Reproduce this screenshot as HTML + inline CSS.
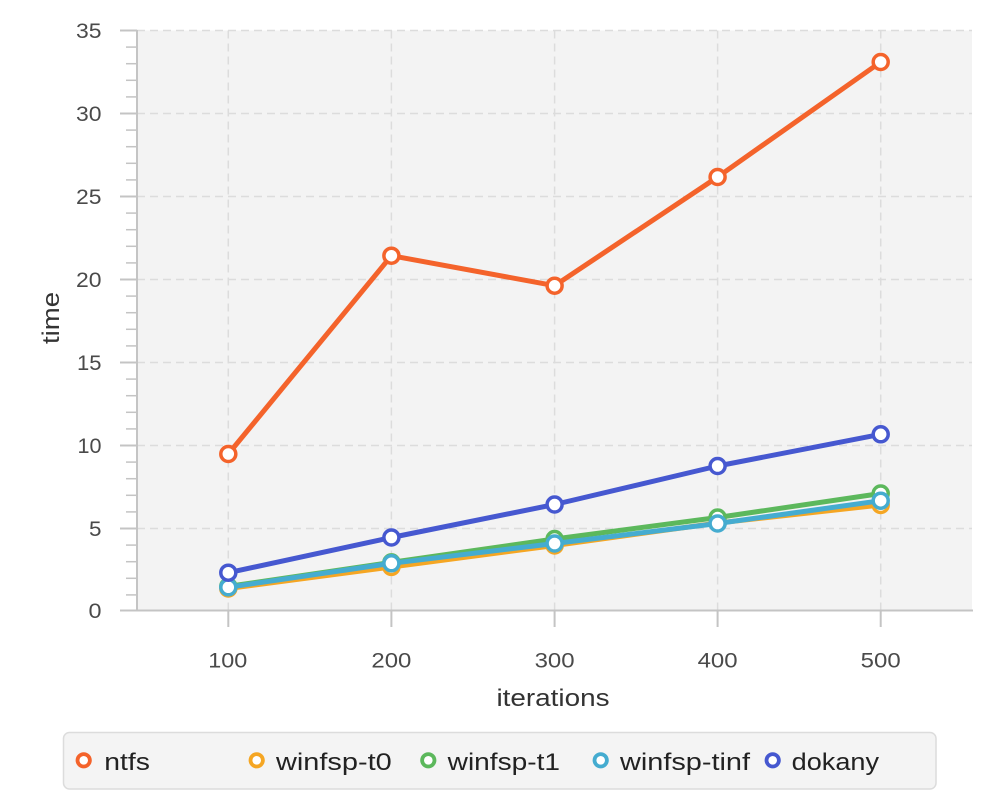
<!DOCTYPE html>
<html>
<head>
<meta charset="utf-8">
<style>
  html, body { margin:0; padding:0; background:#ffffff; }
  svg { display:block; }
  text { font-family: "Liberation Sans", "DejaVu Sans", sans-serif; }
</style>
</head>
<body>
<svg width="1000" height="800" viewBox="0 0 1000 800" xmlns="http://www.w3.org/2000/svg">
  <!-- plot background -->
  <rect x="137" y="30.5" width="835" height="580" fill="#f3f3f3"/>

  <!-- grid -->
  <g stroke="#dcdcdc" stroke-width="1.5" stroke-dasharray="8,5" fill="none">
    <line x1="137" y1="30.5" x2="972" y2="30.5"/>
    <line x1="137" y1="113.5" x2="972" y2="113.5"/>
    <line x1="137" y1="196.5" x2="972" y2="196.5"/>
    <line x1="137" y1="279.5" x2="972" y2="279.5"/>
    <line x1="137" y1="362.5" x2="972" y2="362.5"/>
    <line x1="137" y1="445.5" x2="972" y2="445.5"/>
    <line x1="137" y1="528.5" x2="972" y2="528.5"/>
    <line x1="228.3" y1="30.5" x2="228.3" y2="610"/>
    <line x1="391.4" y1="30.5" x2="391.4" y2="610"/>
    <line x1="554.6" y1="30.5" x2="554.6" y2="610"/>
    <line x1="717.6" y1="30.5" x2="717.6" y2="610"/>
    <line x1="880.7" y1="30.5" x2="880.7" y2="610"/>
  </g>

  <!-- axes -->
  <g stroke="#c4c4c4" stroke-width="2" fill="none">
    <line x1="137" y1="30" x2="137" y2="611.5"/>
    <line x1="136" y1="610.5" x2="973" y2="610.5"/>
    <line x1="120" y1="30.5" x2="137" y2="30.5"/>
    <line x1="120" y1="113.5" x2="137" y2="113.5"/>
    <line x1="120" y1="196.5" x2="137" y2="196.5"/>
    <line x1="120" y1="279.5" x2="137" y2="279.5"/>
    <line x1="120" y1="362.5" x2="137" y2="362.5"/>
    <line x1="120" y1="445.5" x2="137" y2="445.5"/>
    <line x1="120" y1="528.5" x2="137" y2="528.5"/>
    <line x1="120" y1="610.5" x2="137" y2="610.5"/>
    <line x1="228.3" y1="610" x2="228.3" y2="627"/>
    <line x1="391.4" y1="610" x2="391.4" y2="627"/>
    <line x1="554.6" y1="610" x2="554.6" y2="627"/>
    <line x1="717.6" y1="610" x2="717.6" y2="627"/>
    <line x1="880.7" y1="610" x2="880.7" y2="627"/>
  </g>
  <g stroke="#c4c4c4" stroke-width="1.5" fill="none">
    <line x1="126" y1="47.1" x2="137" y2="47.1"/>
    <line x1="126" y1="63.7" x2="137" y2="63.7"/>
    <line x1="126" y1="80.3" x2="137" y2="80.3"/>
    <line x1="126" y1="96.9" x2="137" y2="96.9"/>
    <line x1="126" y1="130.1" x2="137" y2="130.1"/>
    <line x1="126" y1="146.7" x2="137" y2="146.7"/>
    <line x1="126" y1="163.3" x2="137" y2="163.3"/>
    <line x1="126" y1="179.9" x2="137" y2="179.9"/>
    <line x1="126" y1="213.1" x2="137" y2="213.1"/>
    <line x1="126" y1="229.7" x2="137" y2="229.7"/>
    <line x1="126" y1="246.3" x2="137" y2="246.3"/>
    <line x1="126" y1="262.9" x2="137" y2="262.9"/>
    <line x1="126" y1="296.1" x2="137" y2="296.1"/>
    <line x1="126" y1="312.7" x2="137" y2="312.7"/>
    <line x1="126" y1="329.3" x2="137" y2="329.3"/>
    <line x1="126" y1="345.9" x2="137" y2="345.9"/>
    <line x1="126" y1="379.1" x2="137" y2="379.1"/>
    <line x1="126" y1="395.7" x2="137" y2="395.7"/>
    <line x1="126" y1="412.3" x2="137" y2="412.3"/>
    <line x1="126" y1="428.9" x2="137" y2="428.9"/>
    <line x1="126" y1="462.1" x2="137" y2="462.1"/>
    <line x1="126" y1="478.7" x2="137" y2="478.7"/>
    <line x1="126" y1="495.3" x2="137" y2="495.3"/>
    <line x1="126" y1="511.9" x2="137" y2="511.9"/>
    <line x1="126" y1="545.1" x2="137" y2="545.1"/>
    <line x1="126" y1="561.7" x2="137" y2="561.7"/>
    <line x1="126" y1="578.3" x2="137" y2="578.3"/>
    <line x1="126" y1="594.9" x2="137" y2="594.9"/>
  </g>

  <!-- y tick labels -->
  <g fill="#4a4a4a" font-size="21">
    <text x="76" y="38" textLength="25.5" lengthAdjust="spacingAndGlyphs">35</text>
    <text x="76" y="121" textLength="25.5" lengthAdjust="spacingAndGlyphs">30</text>
    <text x="76" y="204" textLength="25.5" lengthAdjust="spacingAndGlyphs">25</text>
    <text x="76" y="287" textLength="25.5" lengthAdjust="spacingAndGlyphs">20</text>
    <text x="77" y="370" textLength="24.5" lengthAdjust="spacingAndGlyphs">15</text>
    <text x="77.5" y="453" textLength="24" lengthAdjust="spacingAndGlyphs">10</text>
    <text x="89" y="536" textLength="12.5" lengthAdjust="spacingAndGlyphs">5</text>
    <text x="88.5" y="618" textLength="13" lengthAdjust="spacingAndGlyphs">0</text>
  </g>
  <!-- x tick labels -->
  <g fill="#4a4a4a" font-size="21">
    <text x="208.3" y="667.5" textLength="39" lengthAdjust="spacingAndGlyphs">100</text>
    <text x="371.4" y="667.5" textLength="40" lengthAdjust="spacingAndGlyphs">200</text>
    <text x="534.6" y="667.5" textLength="40" lengthAdjust="spacingAndGlyphs">300</text>
    <text x="697.6" y="667.5" textLength="40" lengthAdjust="spacingAndGlyphs">400</text>
    <text x="860.7" y="667.5" textLength="40" lengthAdjust="spacingAndGlyphs">500</text>
  </g>

  <!-- axis titles -->
  <text x="496.5" y="706" font-size="24" fill="#333" textLength="113" lengthAdjust="spacingAndGlyphs">iterations</text>
  <text transform="translate(59,344) rotate(-90)" x="0" y="0" font-size="24" fill="#333" textLength="52" lengthAdjust="spacingAndGlyphs">time</text>

  <!-- series -->
  <polyline fill="none" stroke="#f4632b" stroke-width="5" stroke-linejoin="round" points="228.3,454 391.4,255.7 554.6,285.7 717.6,177 880.7,62"/>
  <g fill="#ffffff" stroke="#f4632b" stroke-width="3.5">
    <circle cx="228.3" cy="454" r="7.5"/>
    <circle cx="391.4" cy="255.7" r="7.5"/>
    <circle cx="554.6" cy="285.7" r="7.5"/>
    <circle cx="717.6" cy="177" r="7.5"/>
    <circle cx="880.7" cy="62" r="7.5"/>
  </g>

  <polyline fill="none" stroke="#f5a623" stroke-width="5" stroke-linejoin="round" points="228.3,588.5 391.4,567 554.6,545.5 717.6,523 880.7,505"/>
  <g fill="#ffffff" stroke="#f5a623" stroke-width="3.5">
    <circle cx="228.3" cy="588.5" r="7.5"/>
    <circle cx="391.4" cy="567" r="7.5"/>
    <circle cx="554.6" cy="545.5" r="7.5"/>
    <circle cx="717.6" cy="523" r="7.5"/>
    <circle cx="880.7" cy="505" r="7.5"/>
  </g>

  <polyline fill="none" stroke="#5cb85c" stroke-width="5" stroke-linejoin="round" points="228.3,586.4 391.4,562.4 554.6,539 717.6,517.5 880.7,493.5"/>
  <g fill="#ffffff" stroke="#5cb85c" stroke-width="3.5">
    <circle cx="228.3" cy="586.4" r="7.5"/>
    <circle cx="391.4" cy="562.4" r="7.5"/>
    <circle cx="554.6" cy="539" r="7.5"/>
    <circle cx="717.6" cy="517.5" r="7.5"/>
    <circle cx="880.7" cy="493.5" r="7.5"/>
  </g>

  <polyline fill="none" stroke="#45acd0" stroke-width="5" stroke-linejoin="round" points="228.3,587.3 391.4,563.3 554.6,543.5 717.6,523.5 880.7,500.7"/>
  <g fill="#ffffff" stroke="#45acd0" stroke-width="3.5">
    <circle cx="228.3" cy="587.3" r="7.5"/>
    <circle cx="391.4" cy="563.3" r="7.5"/>
    <circle cx="554.6" cy="543.5" r="7.5"/>
    <circle cx="717.6" cy="523.5" r="7.5"/>
    <circle cx="880.7" cy="500.7" r="7.5"/>
  </g>

  <polyline fill="none" stroke="#4658d0" stroke-width="5" stroke-linejoin="round" points="228.3,572.7 391.4,537.5 554.6,504.5 717.6,466 880.7,434.3"/>
  <g fill="#ffffff" stroke="#4658d0" stroke-width="3.5">
    <circle cx="228.3" cy="572.7" r="7.5"/>
    <circle cx="391.4" cy="537.5" r="7.5"/>
    <circle cx="554.6" cy="504.5" r="7.5"/>
    <circle cx="717.6" cy="466" r="7.5"/>
    <circle cx="880.7" cy="434.3" r="7.5"/>
  </g>

  <!-- legend -->
  <rect x="63.5" y="732.5" width="872.5" height="56.5" rx="6" ry="6" fill="#f4f4f4" stroke="#dcdcdc" stroke-width="1.5"/>
  <g fill="#ffffff" stroke-width="3.8">
    <circle cx="83.7" cy="760.3" r="6.2" stroke="#f4632b"/>
    <circle cx="256.7" cy="760.3" r="6.2" stroke="#f5a623"/>
    <circle cx="428.3" cy="760.3" r="6.2" stroke="#5cb85c"/>
    <circle cx="600.7" cy="760.3" r="6.2" stroke="#45acd0"/>
    <circle cx="772.7" cy="760.3" r="6.2" stroke="#4658d0"/>
  </g>
  <g fill="#222" font-size="24.5">
    <text x="104.3" y="770" textLength="45.7" lengthAdjust="spacingAndGlyphs">ntfs</text>
    <text x="276" y="770" textLength="115.7" lengthAdjust="spacingAndGlyphs">winfsp-t0</text>
    <text x="447.7" y="770" textLength="112.3" lengthAdjust="spacingAndGlyphs">winfsp-t1</text>
    <text x="620" y="770" textLength="130" lengthAdjust="spacingAndGlyphs">winfsp-tinf</text>
    <text x="791.7" y="770" textLength="87.3" lengthAdjust="spacingAndGlyphs">dokany</text>
  </g>
</svg>
</body>
</html>
